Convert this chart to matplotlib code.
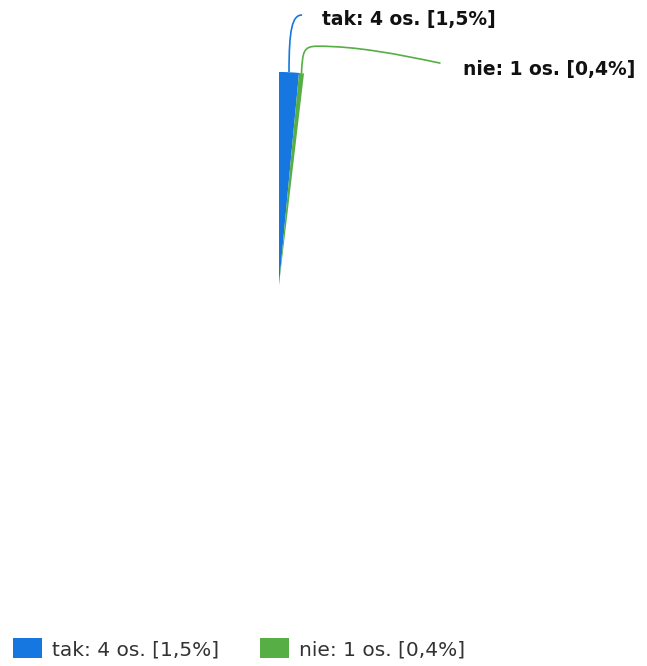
import matplotlib.pyplot as plt
from matplotlib.path import Path
from matplotlib.patches import PathPatch
import numpy as np

LABELS = ["tak", "nie"]
COUNTS = [4, 1]
PERCENTS = [1.5, 0.4]
TOTAL = 267  # all respondents; the rest gave no answer
COLORS = ["#1577df", "#56ae45"]

W, H = 647, 666
CX, CY, R = 279, 285, 213  # pie centre and radius in pixels (from top-left)

fig = plt.figure(figsize=(W / 100, H / 100), dpi=100)
ax = fig.add_axes([(CX - R) / W, (H - CY - R) / H, 2 * R / W, 2 * R / H])

values = COUNTS + [TOTAL - sum(COUNTS)]
colors = COLORS + ["none"]
wedges, _ = ax.pie(values, colors=colors, startangle=90, counterclock=False,
                   radius=1, wedgeprops=dict(linewidth=0))
ax.set_xlim(-1, 1)
ax.set_ylim(-1, 1)
ax.axis("off")

texts = [f"{l}: {c} os. [{str(p).replace('.', ',')}%]" for l, c, p in zip(LABELS, COUNTS, PERCENTS)]


def px(dx, dy):
	# pixel offsets (x right, y down) to data units
	return dx / R, -dy / R


# leader lines, anchored on the outer edge of each wedge
leader_offsets = [
	[(0, 0), (0, -42), (3, -57), (13, -57)],
	[(0, 0), (1, -22), (2, -27), (16, -27), (56, -27), (96, -19), (139, -10)],
]
text_offsets = [(33, -52), (161, -4)]
for i, w in enumerate(wedges[:2]):
	ang = np.deg2rad((w.theta1 + w.theta2) / 2)
	ax0, ay0 = np.cos(ang), np.sin(ang)
	ay0 = 1.0 if i == 0 else ay0
	verts = [(ax0 + px(*o)[0], ay0 + px(*o)[1]) for o in leader_offsets[i]]
	codes = [Path.MOVETO] + [Path.CURVE4] * (len(verts) - 1)
	ax.add_patch(PathPatch(Path(verts, codes), fill=False, edgecolor=COLORS[i],
	                       linewidth=1.2, clip_on=False))
	tx, ty = px(*text_offsets[i])
	ax.text(ax0 + tx, ay0 + ty, texts[i], fontsize=13.5, fontweight="bold",
	        color="#111111", ha="left", va="center", clip_on=False)

fig.legend(wedges[:2], texts, loc="lower left", bbox_to_anchor=(13 / W, 7 / H),
           ncol=2, frameon=False, fontsize=14.5, handlelength=1.45, handleheight=1.1,
           handletextpad=0.5, columnspacing=2.0, borderpad=0, borderaxespad=0,
           labelcolor="#333333")

fig.savefig("out.png", dpi=100)
